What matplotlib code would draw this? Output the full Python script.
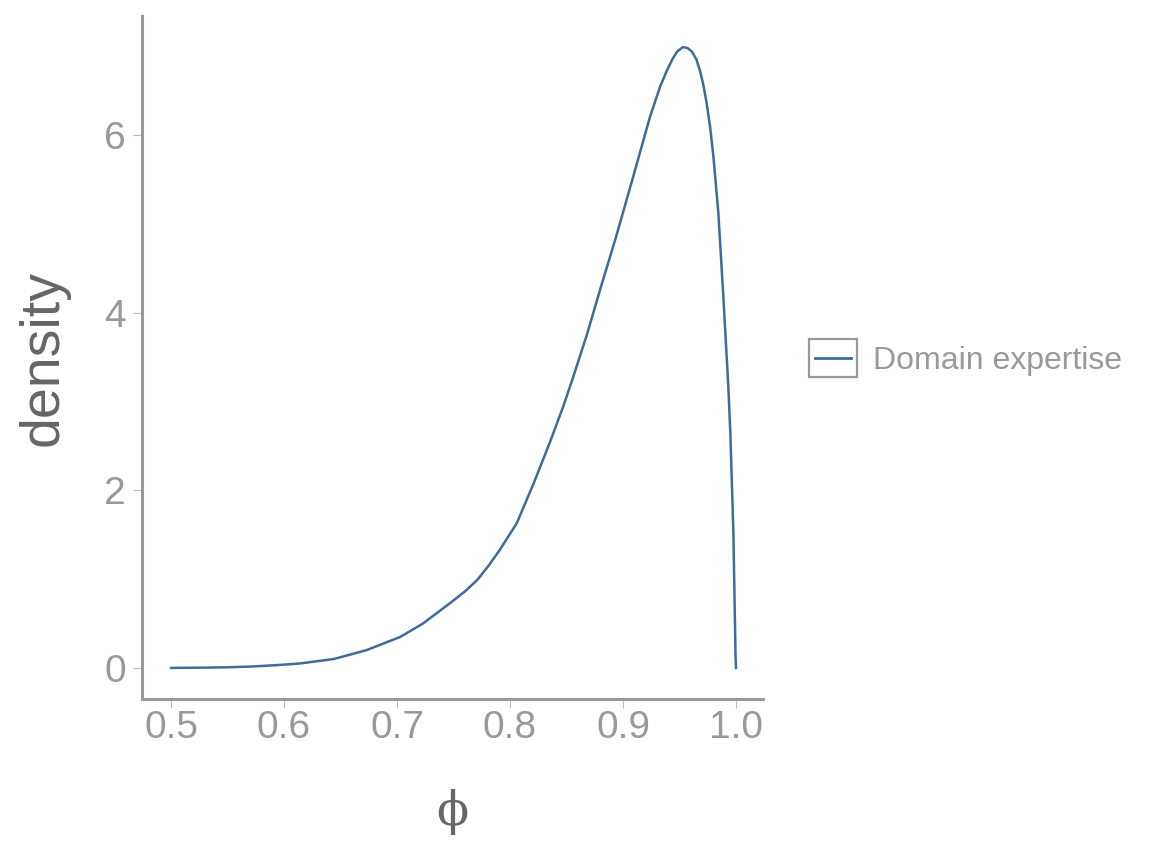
import matplotlib
matplotlib.use("Agg")
import matplotlib.pyplot as plt
from matplotlib.lines import Line2D
from matplotlib.patches import Rectangle

# density curve
phi = [0.500, 0.530, 0.550, 0.570, 0.592, 0.614, 0.644, 0.673, 0.703, 0.723,
       0.747, 0.760, 0.771, 0.781, 0.791, 0.806, 0.821, 0.835, 0.847, 0.855,
       0.868, 0.880, 0.894, 0.909, 0.924, 0.933, 0.939, 0.944, 0.948, 0.953,
       0.957, 0.961, 0.965, 0.968, 0.971, 0.974, 0.977, 0.980, 0.9844, 0.9888,
       0.9932, 0.995, 0.9977, 0.9996, 1.000]
density = [0.000, 0.003, 0.007, 0.015, 0.03, 0.05, 0.10, 0.20, 0.35, 0.50,
           0.73, 0.86, 0.99, 1.15, 1.33, 1.63, 2.08, 2.53, 2.94, 3.24,
           3.75, 4.27, 4.86, 5.53, 6.21, 6.55, 6.73, 6.86, 6.94, 6.99,
           6.98, 6.94, 6.85, 6.73, 6.57, 6.36, 6.10, 5.76, 5.12, 4.18,
           3.17, 2.64, 1.52, 0.13, 0.00]
series_name = "Domain expertise"
x_ticks = [0.5, 0.6, 0.7, 0.8, 0.9, 1.0]
y_ticks = [0, 2, 4, 6]

line_color = "#41699A"
axis_grey = "#999999"
label_grey = "#666666"


class KeyHandler:
    """ggplot-like legend key: grey box with a short line inside."""
    def legend_artist(self, legend, orig_handle, fontsize, handlebox):
        x0, y0 = -handlebox.xdescent, -handlebox.ydescent
        w, h = handlebox.width, handlebox.height
        tr = handlebox.get_transform()
        box = Rectangle((x0, y0), w, h, facecolor="white", edgecolor=axis_grey,
                        lw=1.6, transform=tr)
        ln = Line2D([x0 + 0.12 * w, x0 + 0.88 * w], [y0 + h / 2] * 2,
                    color=orig_handle.get_color(), lw=2, transform=tr)
        handlebox.add_artist(box)
        handlebox.add_artist(ln)
        return ln


fig = plt.figure(figsize=(11.52, 8.65), dpi=100)
ax = fig.add_axes([142 / 1152, 166 / 865, 621 / 1152, 683 / 865])

ax.plot(phi, density, color=line_color, lw=1.8, label=series_name,
        solid_joinstyle="round")

ax.set_xlim(0.4743, 1.0239)
ax.set_ylim(-0.35, 7.34)
ax.set_xticks(x_ticks)
ax.set_xticklabels([f"{t:.1f}" for t in x_ticks])
ax.set_yticks(y_ticks)

for side in ["top", "right"]:
    ax.spines[side].set_visible(False)
for side in ["left", "bottom"]:
    ax.spines[side].set_color(axis_grey)
    ax.spines[side].set_linewidth(2.2)

ax.tick_params(axis="both", direction="out", length=6.5, width=0.8,
               color="#bbbbbb", labelcolor=axis_grey, labelsize=28)
ax.tick_params(axis="x", pad=1.5)
ax.tick_params(axis="y", pad=5)
for lab in ax.get_xticklabels() + ax.get_yticklabels():
    lab.set_family("Liberation Sans")

ax.set_xlabel("\u03d5", family="DejaVu Serif", fontsize=34, color=label_grey,
              va="center")
ax.xaxis.set_label_coords(0.5, -0.1654)
ax.set_ylabel("density", family="Liberation Sans", fontsize=40,
              color=label_grey, va="center")
ax.yaxis.set_label_coords(-0.158, 0.5)

leg = ax.legend(handler_map={Line2D: KeyHandler()}, frameon=False,
                loc="center left", bbox_to_anchor=(809 / 1152, 507 / 865),
                bbox_transform=fig.transFigure, borderpad=0, borderaxespad=0,
                handlelength=1.5, handleheight=1.5, handletextpad=0.5,
                prop={"family": "Liberation Sans", "size": 23})
for t in leg.get_texts():
    t.set_color(axis_grey)

fig.savefig("out.png", dpi=100)
